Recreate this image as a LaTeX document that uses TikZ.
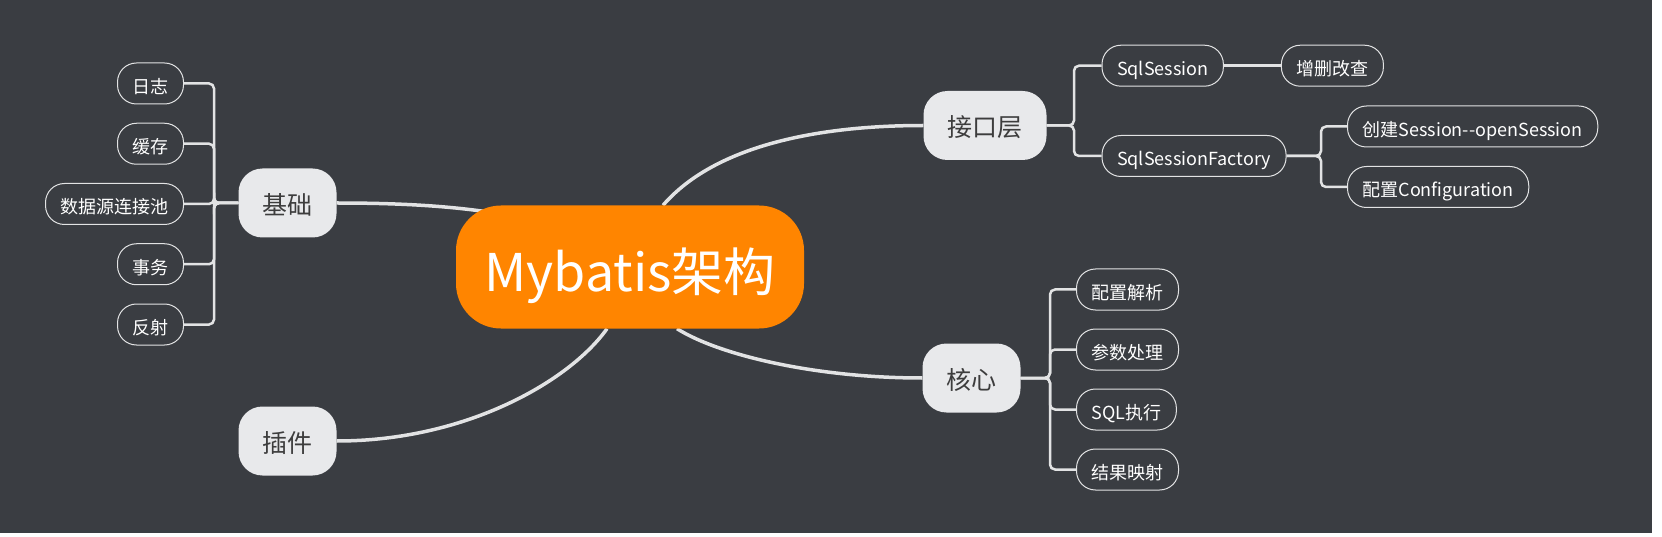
\documentclass[tikz,border=0pt]{standalone}
\usepackage{fontspec}
\setmainfont{Noto Sans CJK SC}
\usetikzlibrary{positioning,calc}
\definecolor{canvasgray}{HTML}{3A3D42}
\definecolor{huborange}{HTML}{FF8500}
\definecolor{topicgray}{HTML}{E8E9EB}
\definecolor{linkgray}{HTML}{E2E3E4}
\definecolor{topictext}{HTML}{3D3D3D}
\pgfdeclarelayer{canvas}
\pgfdeclarelayer{links}
\pgfsetlayers{canvas,links,main}
\tikzset{
	hub/.style={fill=huborange, text=white, rounded corners=45pt, minimum width=348pt, minimum height=123pt, text height=50pt, text depth=0.4pt, font=\fontsize{52pt}{60pt}\selectfont},
	topic/.style={fill=topicgray, text=topictext, rounded corners=24pt, minimum height=69pt, inner xsep=24pt, text height=23pt, text depth=0.6pt, font=\fontsize{25pt}{30pt}\selectfont},
	leaf/.style={draw=linkgray, fill=canvasgray, line width=1pt, text=white, rounded corners=19pt, minimum height=41pt, inner xsep=15pt, text height=20pt, text depth=0pt, font=\fontsize{18pt}{22pt}\selectfont},
	branch/.style={draw=linkgray, line width=3.5pt},
	twig/.style={draw=linkgray, line width=2.5pt, rounded corners=5pt},
}
\begin{document}
\begin{tikzpicture}[x=1pt,y=-1pt]
		\useasboundingbox (0,0) rectangle (1662,537);
		\begin{pgfonlayer}{canvas}
		\fill[white] (0,0) rectangle (1662,537);
		\fill[canvasgray] (0,0) rectangle (1652,533);
		\end{pgfonlayer}

		\node[hub] (hub) at (630,267) {Mybatis架构};
		\node[topic] (base) at (287.5,203) {基础};
		\node[topic] (plugin) at (287.5,441) {插件};
		\node[topic] (api) at (985,125.5) {接口层};
		\node[topic] (core) at (971.5,378) {核心};

		% 基础
		\foreach \name/\txt [count=\i from 0] in {log/日志, cache/缓存, pool/数据源连接池, tx/事务, reflect/反射}
		\node[leaf, anchor=east] (\name) at (184,83.5+60.25*\i) {\txt};

		% 接口层
		\node[leaf, anchor=west] (sqls) at (1101.5,65.7) {SqlSession};
		\node[leaf, anchor=west] (factory) at (1101.5,156) {SqlSessionFactory};
		\node[leaf, right=57pt of sqls] (crud) {增删改查};
		\node[leaf, anchor=west] (open) at (1347,126.5) {创建Session{-}{-}openSession};
		\node[leaf, anchor=west] (config) at (1347,187) {配置Configuration};

		% 核心
		\foreach \name/\txt [count=\i from 0] in {parse/配置解析, param/参数处理, exec/SQL执行, result/结果映射}
		\node[leaf, anchor=west] (\name) at (1076,289.5+60*\i) {\txt};

		\begin{pgfonlayer}{links}
		\draw[branch] (base.east) .. controls +(64,0) and +(-45,-7) .. ([shift={(-135,-54)}]hub.center);
		\draw[branch] ([xshift=33pt]hub.north) .. controls +(52,-60) and +(-105,0) .. (api.west);
		\draw[branch] ([xshift=47pt]hub.south) .. controls +(43,27) and +(-105,0) .. (core.west);
		\draw[branch] ([xshift=-23pt]hub.south) .. controls +(-37,52) and +(130,0) .. (plugin.east);

		\foreach \n in {log,cache,pool,tx,reflect}
		\draw[twig] (base.west) -| ([xshift=30pt]\n.east) -- (\n.east);
		\foreach \n in {sqls,factory}
		\draw[twig] (api.east) -| ([xshift=-27.5pt]\n.west) -- (\n.west);
		\draw[twig] (sqls) -- (crud);
		\foreach \n in {open,config}
		\draw[twig] (factory.east) -| ([xshift=-26pt]\n.west) -- (\n.west);
		\foreach \n in {parse,param,exec,result}
		\draw[twig] (core.east) -| ([xshift=-26pt]\n.west) -- (\n.west);
		\end{pgfonlayer}
\end{tikzpicture}
\end{document}
